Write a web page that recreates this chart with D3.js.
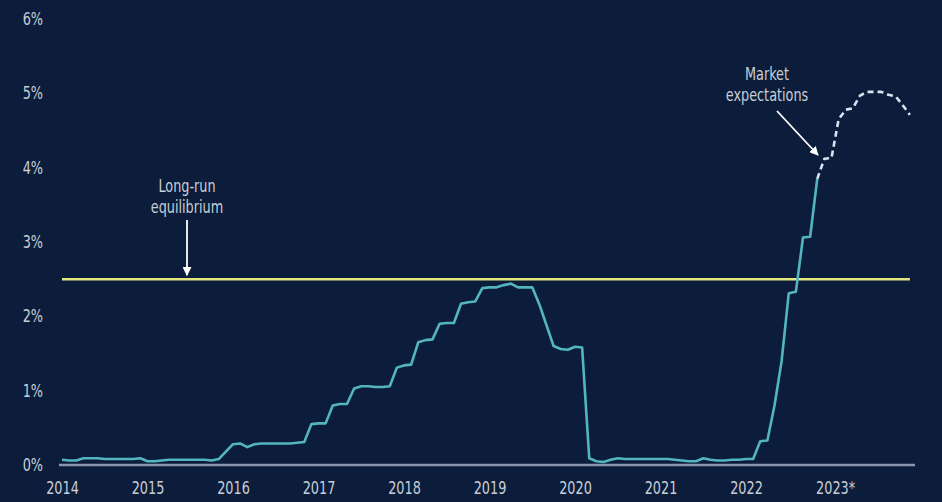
<!DOCTYPE html>
<html><head><meta charset="utf-8">
<script src="https://cdn.jsdelivr.net/npm/d3@7"></script>
<style>
html,body{margin:0;padding:0;background:#0b1d3b;}
svg{display:block;}
text{font-family:"Liberation Sans Narrow","DejaVu Sans Condensed","Roboto",sans-serif;}
</style></head>
<body>
<svg id="c" width="942" height="502"></svg>
<script>
// Monthly rate, Jan 2014 .. Nov 2022 (percent)
const rates = [
 0.07,0.06,0.06,0.09,0.09,0.09,0.08,0.08,0.08,0.08,0.08,0.09, // 2014
 0.05,0.05,0.06,0.07,0.07,0.07,0.07,0.07,0.07,0.06,0.08,0.18, // 2015
 0.28,0.29,0.24,0.28,0.29,0.29,0.29,0.29,0.29,0.30,0.31,0.55, // 2016
 0.56,0.56,0.80,0.82,0.82,1.03,1.06,1.06,1.05,1.05,1.06,1.31, // 2017
 1.34,1.35,1.65,1.68,1.69,1.90,1.91,1.91,2.17,2.19,2.20,2.38, // 2018
 2.39,2.39,2.42,2.44,2.39,2.39,2.39,2.16,1.88,1.60,1.56,1.55, // 2019
 1.59,1.58,0.09,0.05,0.04,0.07,0.09,0.08,0.08,0.08,0.08,0.08, // 2020
 0.08,0.08,0.07,0.06,0.05,0.05,0.09,0.07,0.06,0.06,0.07,0.07, // 2021
 0.08,0.08,0.32,0.33,0.80,1.40,2.31,2.33,3.06,3.07,3.85        // 2022 (to Nov)
];
// Market expectations, Nov 2022 .. Dec 2023 (percent)
const expectations = [3.85,4.12,4.13,4.65,4.78,4.80,4.97,5.02,5.02,5.02,4.98,4.96,4.84,4.71];
const expectStartMonth = 106; // months after Jan 2014
const longRun = 2.5;
const yearTicks = [2014,2015,2016,2017,2018,2019,2020,2021,2022,2023];
const yearLabels = ["2014","2015","2016","2017","2018","2019","2020","2021","2022","2023*"];
const yTicks = [0,1,2,3,4,5,6];

const svg = d3.select("#c");
svg.append("rect").attr("width",942).attr("height",502).attr("fill","#0b1d3b");

const x = d3.scaleLinear().domain([2014, 2024]).range([62, 917]);
const y = d3.scaleLinear().domain([0, 6]).range([465, 19]);

const textCol = "#c8cdd6";
const FONT = '"Liberation Sans Narrow","DejaVu Sans Condensed",sans-serif';
const SQ = "scale(0.84,1)";

// y axis labels
const yAxis = d3.axisLeft(y).tickValues(yTicks).tickFormat(d => d + "%").tickSize(0).tickPadding(0);
const gy = svg.append("g").attr("transform","translate(43,0)").call(yAxis);
gy.select(".domain").remove();
gy.selectAll("text").attr("fill",textCol).style("font-size","17px").style("font-family",FONT)
  .attr("transform",SQ);

// x axis labels
const xAxis = d3.axisBottom(x).tickValues(yearTicks).tickFormat((d,i) => yearLabels[i]).tickSize(0).tickPadding(0);
const gx = svg.append("g").attr("transform","translate(0,482)").call(xAxis);
gx.select(".domain").remove();
gx.selectAll("text").attr("fill",textCol).style("font-size","17px").style("font-family",FONT)
  .attr("transform",SQ)
  .attr("text-anchor", (d,i) => i === yearTicks.length-1 ? "start" : "middle")
  .attr("dx", (d,i) => i === yearTicks.length-1 ? "-19" : "0");

// baseline
svg.append("line").attr("x1",59).attr("x2",915).attr("y1",y(0)).attr("y2",y(0))
  .attr("stroke","#8995ad").attr("stroke-width",2.5);

// long-run line
svg.append("line").attr("x1",x(2014)).attr("x2",x(2014+ (expectStartMonth+13)/12))
  .attr("y1",y(longRun)).attr("y2",y(longRun))
  .attr("stroke","#e3e67e").attr("stroke-width",2.5);

const line = d3.line().x(d => x(2014 + d[0]/12)).y(d => y(d[1]));

svg.append("path").datum(rates.map((v,i)=>[i,v]))
  .attr("d",line).attr("fill","none").attr("stroke","#53b5bf")
  .attr("stroke-width",2.6).attr("stroke-linejoin","round");

svg.append("path").datum(expectations.map((v,i)=>[expectStartMonth+i,v]))
  .attr("d",line).attr("fill","none").attr("stroke","#d4e4f0")
  .attr("stroke-width",2.6).attr("stroke-dasharray","6,4").attr("stroke-linejoin","round");

// annotations
const defs = svg.append("defs");
defs.append("marker").attr("id","ah").attr("viewBox","0 0 10 10").attr("refX",9).attr("refY",5)
  .attr("markerWidth",5).attr("markerHeight",5).attr("orient","auto")
  .append("path").attr("d","M0,0 L10,5 L0,10 Z").attr("fill","#ffffff");

function label(cx, cy, txt) {
  svg.append("text").attr("transform",`translate(${cx},${cy}) ${SQ}`)
    .attr("text-anchor","middle").attr("fill",textCol)
    .style("font-size","17px").style("font-family",FONT).text(txt);
}
label(187,192,"Long-run");
label(187,213,"equilibrium");
svg.append("line").attr("x1",187).attr("x2",187).attr("y1",220).attr("y2",y(longRun)-4)
  .attr("stroke","#ffffff").attr("stroke-width",1.8).attr("marker-end","url(#ah)");

label(767,80,"Market");
label(767,101,"expectations");
svg.append("line").attr("x1",777).attr("y1",111).attr("x2",818).attr("y2",155)
  .attr("stroke","#ffffff").attr("stroke-width",1.8).attr("marker-end","url(#ah)");
</script>
</body></html>
